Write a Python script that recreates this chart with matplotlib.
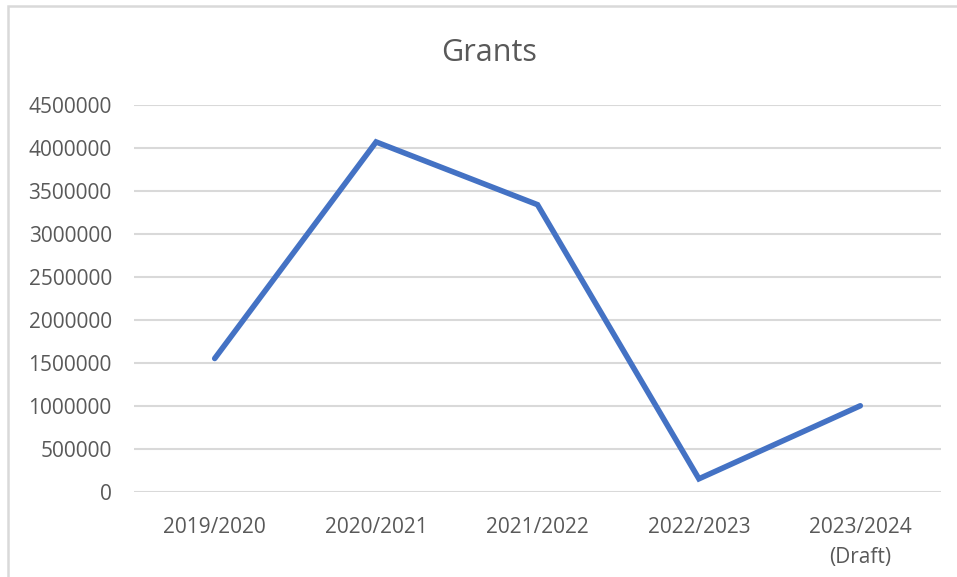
import matplotlib.pyplot as plt
from matplotlib.patches import Rectangle
from matplotlib.ticker import MultipleLocator

# Data
years = ["2019/2020", "2020/2021", "2021/2022", "2022/2023", "2023/2024\n(Draft)"]
grants = [1550000, 4070000, 3340000, 150000, 1000000]

W, H = 957, 577
text_grey = "#595959"
grid_grey = "#D9D9D9"

plt.rcParams["font.family"] = ["Open Sans", "DejaVu Sans"]

fig = plt.figure(figsize=(W / 100, H / 100), dpi=100)
ax = fig.add_axes([134 / W, 1 - 491.7 / H, (941 - 134) / W, (491.7 - 105) / H])

x = list(range(len(years)))
ax.plot(x, grants, color="#4472C4", lw=4.0, solid_joinstyle="miter", solid_capstyle="round", zorder=3)

ax.set_xlim(-0.5, len(years) - 0.5)
ax.set_ylim(0, 4500000)
ax.yaxis.set_major_locator(MultipleLocator(500000))
ax.yaxis.set_major_formatter(plt.FuncFormatter(lambda v, p: f"{int(v)}"))
ax.set_xticks(x)
ax.set_xticklabels(years, linespacing=1.55)

ax.grid(axis="y", color=grid_grey, lw=1.5)
ax.set_axisbelow(True)
for s in ax.spines.values():
    s.set_visible(False)
ax.tick_params(axis="both", length=0, colors=text_grey, labelsize=15)
ax.tick_params(axis="y", pad=16)
ax.tick_params(axis="x", pad=18)

fig.text(489.5 / W, 1 - 53 / H, "Grants", ha="center", va="center", fontsize=22, color=text_grey)

# chart-area border (cropped on the right and bottom)
fig.patches.append(Rectangle((8 / W, -0.1), 1.2, 1 - 6 / H + 0.1, transform=fig.transFigure,
                             fill=False, edgecolor=grid_grey, lw=1.8))

fig.savefig("out.png", dpi=100)
